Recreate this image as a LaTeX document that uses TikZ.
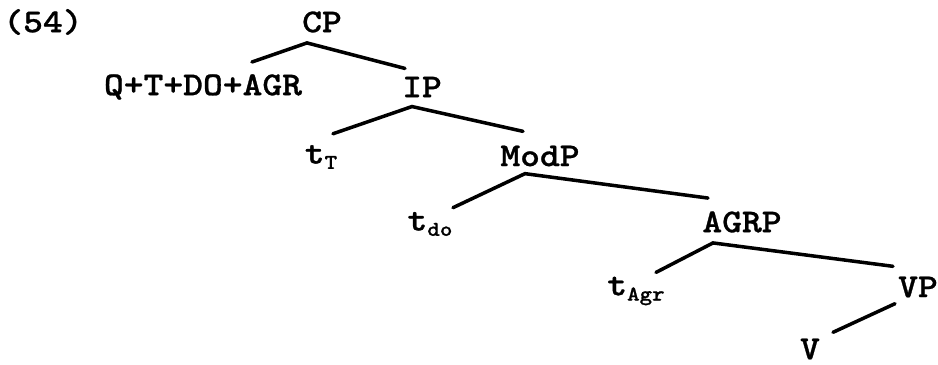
\documentclass[tikz,border=0pt]{standalone}
\usepackage{fontspec}
\usepackage{xcolor}
\usepackage{tikz}
\usetikzlibrary{calc}
\usetikzlibrary{shapes,arrows,positioning}

\newfontfamily\treefont{lmmonolt10-bold.otf}[FakeBold=0.8,FakeStretch=1.13]
\newcommand{\trc}[1]{t\raisebox{-3pt}{\fontsize{12}{12}\selectfont #1}}

\tikzset{
  cat/.style={inner sep=0pt, font=\treefont\fontsize{19}{19}\selectfont},
  branch/.style={line width=2pt, line cap=round}
}

\begin{document}
\begin{tikzpicture}[x=0.02cm, y=-0.02cm]
  \useasboundingbox (0,0) rectangle (938,365);
  % labels
  \node[cat] (ex) at (43,22) {(54)};
  \node[cat] (cp) at (322,22) {CP};
  \node[cat] (qt) at (203,87) {Q+T+DO+AGR};
  \node[cat] (ip) at (422,87) {IP};
  \node[cat] (tt) at (321,157) {\trc{T}};
  \node[cat] (modp) at (540,156) {ModP};
  \node[cat] (tdo) at (430,224) {\trc{do}};
  \node[cat] (agrp) at (742,222) {AGRP};
  \node[cat] (tagr) at (636,291) {\trc{Agr}};
  \node[cat] (vp) at (918,287) {VP};
  \node[cat] (v) at (810,349) {V};
  % branches
  \draw[branch] ($(qt.north)+(49,-12)$) -- ($(cp.south)+(-15,10)$) -- ($(ip.north)+(-17,-8)$);
  \draw[branch] ($(tt.north)+(12,-11)$) -- ($(ip.south)+(-10,9)$) -- ($(modp.north)+(-17,-14)$);
  \draw[branch] ($(tdo.north)+(23,-4)$) -- ($(modp.south)+(-15,7)$) -- ($(agrp.north)+(-34,-13)$);
  \draw[branch] ($(tagr.north)+(20,-4)$) -- ($(agrp.south)+(-29,10)$) -- ($(vp.north)+(-25,-10)$);
  \draw[branch] ($(v.north)+(23,-6)$) -- ($(vp.south)+(-23,6)$);
\end{tikzpicture}
\end{document}
